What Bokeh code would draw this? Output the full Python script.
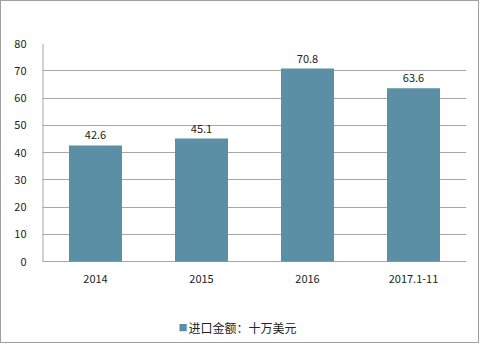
from bokeh.plotting import figure
from bokeh.models import ColumnDataSource, FixedTicker, Label, LabelSet
from bokeh.core.properties import value
from bokeh.embed import file_html
from bokeh.resources import INLINE

categories = ["2014", "2015", "2016", "2017.1-11"]
values = [42.6, 45.1, 70.8, 63.6]
labels = ["42.6", "45.1", "70.8", "63.6"]
y_ticks = [0, 10, 20, 30, 40, 50, 60, 70, 80]
series_name = "进口金额：十万美元"

FONT = "Noto Sans CJK SC"
BAR = "#5B8FA6"
GRID = "#A6A6A6"

# layout (pixels): plot area 0..80 spans 218 px; extra 78 px below zero for
# category labels and the legend
PX_PER_UNIT = 218 / 80
EXTRA_PX = 78
y_min = -EXTRA_PX / PX_PER_UNIT

src = ColumnDataSource(dict(cat=categories, val=values, lab=labels,
                            zero=[0] * len(categories)))

p = figure(x_range=categories, y_range=(y_min, 80), width=479, height=343,
           output_backend="svg", toolbar_location=None,
           min_border_left=41, min_border_right=14, min_border_top=42, min_border_bottom=5)

r = p.vbar(x="cat", top="val", width=0.5, source=src, color=BAR, line_color=None)

# value labels
p.add_layout(LabelSet(x="cat", y="val", text="lab", source=src, text_align="center",
                      text_baseline="bottom", y_offset=6, text_font=value(FONT),
                      text_font_size=value("11px"), text_color=value("#222222")))
# category labels
p.add_layout(LabelSet(x="cat", y="zero", text="cat", source=src, text_align="center",
                      text_baseline="middle", y_offset=-17, text_font=value(FONT),
                      text_font_size=value("11px"), text_color=value("#222222")))

p.xaxis.visible = False
p.yaxis.ticker = FixedTicker(ticks=y_ticks)
p.ygrid.ticker = FixedTicker(ticks=y_ticks)
p.ygrid.grid_line_color = GRID
p.xgrid.grid_line_color = None
p.outline_line_color = None

p.yaxis.major_tick_line_color = None
p.yaxis.minor_tick_line_color = None
p.yaxis.axis_line_color = None
p.yaxis.major_label_text_font = FONT
p.yaxis.major_label_text_font_size = "11px"
p.yaxis.major_label_text_color = "#222222"
p.yaxis.major_label_standoff = 10

# left axis line from 0 to the top tick
p.segment(x0=[0], y0=[y_ticks[0]], x1=[0], y1=[y_ticks[-1]], line_color=GRID, line_width=2)

# legend
p.add_layout(Label(x=2.0, y=0, x_offset=-76, y_offset=-66, text="■", text_color=BAR,
                   text_font=FONT, text_font_size="9px", text_baseline="middle",
                   text_align="left"))
p.add_layout(Label(x=2.0, y=0, x_offset=-66, y_offset=-66, text=series_name,
                   text_color="#222222", text_font=FONT, text_font_size="12px",
                   text_baseline="middle", text_align="left"))

p.styles = {"border": "1px solid #A0A0A0"}

open("out.html", "w").write(file_html(p, INLINE))
